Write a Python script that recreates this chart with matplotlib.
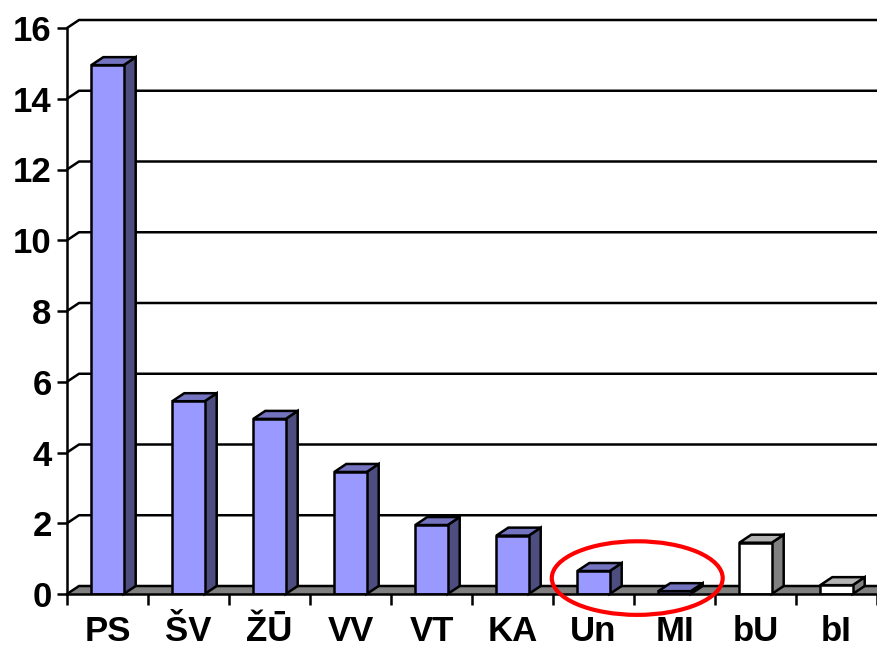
import matplotlib.pyplot as plt
from matplotlib.patches import Polygon, Ellipse

plt.rcParams['font.family'] = ['Liberation Sans', 'DejaVu Sans']

# data
categories = ['PS', 'ŠV', 'ŽŪ', 'VV', 'VT', 'KA', 'Un', 'MI', 'bU', 'bI']
values = [14.95, 5.45, 4.95, 3.45, 1.95, 1.65, 0.65, 0.08, 1.45, 0.25]
filled = [True, True, True, True, True, True, True, True, False, False]
y_ticks = [0, 2, 4, 6, 8, 10, 12, 14, 16]

# 3d look: depth offset, in data units (12 px right, 8 px up)
W, H = 877, 652
left_px, zero_px, top_px = 67, 594, 28
ncat = len(categories)
px_x = (W - left_px) / ncat
px_y = (zero_px - top_px) / 16
dx = 12 / px_x
dy = 8 / px_y
bar_w = 0.4
lw = 1.8

fig = plt.figure(figsize=(W / 100, H / 100), dpi=100)
ax = fig.add_axes([left_px / W, 1 - zero_px / H, 1 - left_px / W, (zero_px - top_px) / H])
ax.set_xlim(0, ncat)
ax.set_ylim(0, 16)

# back wall gridlines and the little diagonal stubs on the left
for v in y_ticks[1:]:
    ax.plot([0, dx, ncat + dx], [v, v + dy, v + dy], color='black', lw=lw,
            clip_on=False, zorder=1, solid_capstyle='butt')

# floor
floor = Polygon([(0, 0), (dx, dy), (ncat + dx, dy), (ncat, 0)], closed=True,
                facecolor='#808080', edgecolor='none', clip_on=False, zorder=2)
ax.add_patch(floor)
ax.plot([0, dx, ncat + dx], [0, dy, dy], color='black', lw=lw, clip_on=False, zorder=2)

# bars: front face via ax.bar, side and top as polygons
xs = [i + 0.5 for i in range(ncat)]
front = ['#9999FF' if f else '#FFFFFF' for f in filled]
ax.bar(xs, values, width=bar_w, color=front, edgecolor='black', linewidth=lw, zorder=4)
for x, v, f in zip(xs, values, filled):
    x0, x1 = x - bar_w / 2, x + bar_w / 2
    top_c = '#7373BF' if f else '#B3B3B3'
    side_c = '#4D4D80' if f else '#808080'
    side = Polygon([(x1, 0), (x1 + dx, dy), (x1 + dx, v + dy), (x1, v)], closed=True,
                   facecolor=side_c, edgecolor='black', lw=lw, zorder=3, clip_on=False,
                   joinstyle='miter')
    top = Polygon([(x0, v), (x0 + dx, v + dy), (x1 + dx, v + dy), (x1, v)], closed=True,
                  facecolor=top_c, edgecolor='black', lw=lw, zorder=3, clip_on=False,
                  joinstyle='miter')
    ax.add_patch(side)
    ax.add_patch(top)

# red ellipse around Un and MI
ell = Ellipse((7.04, 0.45), 2.11, 2.08, fill=False, edgecolor='red', lw=3,
              clip_on=False, zorder=6)
ax.add_patch(ell)

# axes styling
for s in ['top', 'right']:
    ax.spines[s].set_visible(False)
ax.spines['left'].set_linewidth(lw)
ax.spines['bottom'].set_linewidth(lw)
ax.spines['left'].set_zorder(5)
ax.spines['bottom'].set_zorder(5)
ax.set_yticks(y_ticks)
ax.set_yticklabels([str(t) for t in y_ticks], fontsize=25, fontweight='bold')
ax.tick_params(axis='y', length=7, width=lw, pad=4)
ax.set_xticks(range(ncat + 1))
ax.set_xticklabels([])
ax.tick_params(axis='x', which='major', length=8, width=lw)
ax.set_xticks(xs, minor=True)
ax.set_xticklabels(categories, minor=True, fontsize=25, fontweight='bold')
ax.tick_params(axis='x', which='minor', length=0, pad=15)

fig.savefig('out.png', dpi=100)
